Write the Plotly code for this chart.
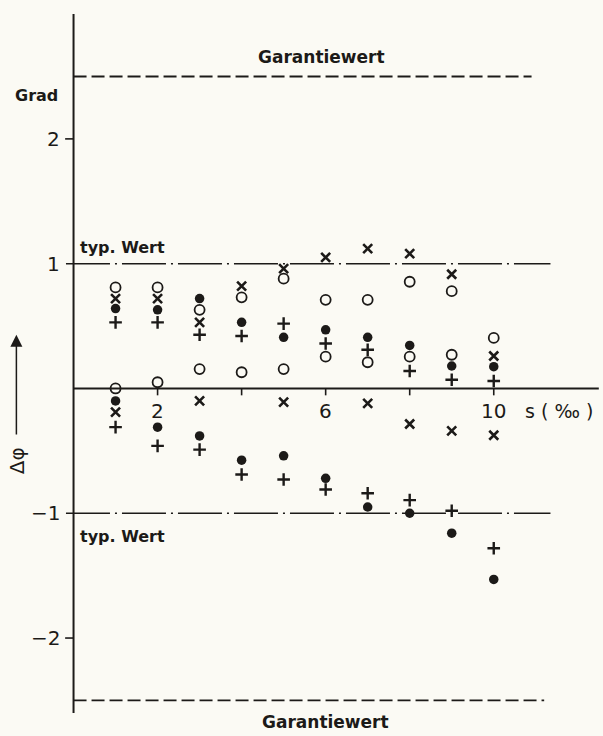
import plotly.graph_objects as go

# ---- data ----
s_values = [1, 2, 3, 4, 5, 6, 7, 8, 9, 10]

open_upper = [0.81, 0.81, 0.63, 0.73, 0.88, 0.71, 0.71, 0.855, 0.78, 0.405]
open_lower = [0.0, 0.05, 0.155, 0.13, 0.155, 0.255, 0.21, 0.255, 0.27, None]
cross_upper = [0.72, 0.72, 0.53, 0.82, 0.96, 1.05, 1.12, 1.08, 0.915, 0.26]
cross_lower = [-0.19, None, -0.10, None, -0.11, None, -0.12, -0.285, -0.34, -0.375]
dot_upper = [0.64, 0.63, 0.72, 0.53, 0.41, 0.47, 0.41, 0.345, 0.18, 0.175]
dot_lower = [-0.10, -0.31, -0.38, -0.575, -0.54, -0.72, -0.95, -1.0, -1.16, -1.53]
plus_upper = [0.53, 0.53, 0.43, 0.42, 0.52, 0.36, 0.31, 0.14, 0.07, 0.06]
plus_lower = [-0.31, -0.46, -0.49, -0.69, -0.73, -0.81, -0.84, -0.895, -0.98, -1.28]

x_tick_vals = [2, 4, 6, 8, 10]
x_tick_labels = ["2", "", "6", "", "10"]
y_tick_vals = [2, 1, -1, -2]
y_tick_labels = ["2", "1", "\u22121", "\u22122"]
guarantee_value = 2.5
typical_value = 1.0

INK = "#1c1a18"
BG = "#fbfaf4"
FONT = "DejaVu Sans"

fig = go.Figure()

def add_series(yvals, symbol, size, lw):
    fig.add_trace(go.Scatter(
        x=s_values, y=yvals, mode="markers",
        marker=dict(symbol=symbol, size=size, color=INK,
                    line=dict(color=INK, width=lw)),
        showlegend=False, hoverinfo="skip"))

for ys in (open_upper, open_lower):
    add_series(ys, "circle-open", 10, 1.8)
for ys in (cross_upper, cross_lower):
    add_series(ys, "x-thin", 9, 2.6)
for ys in (dot_upper, dot_lower):
    add_series(ys, "circle", 9.5, 0)
for ys in (plus_upper, plus_lower):
    add_series(ys, "cross-thin", 9, 2.4)

shapes = []
# axes
shapes.append(dict(type="line", x0=0, x1=0, y0=-2.6, y1=3.0, xref="x", yref="y",
                   line=dict(color=INK, width=2)))
shapes.append(dict(type="line", x0=0, x1=12.5, y0=0, y1=0, xref="x", yref="y",
                   line=dict(color=INK, width=2)))
# guarantee lines
shapes.append(dict(type="line", x0=0, x1=10.9, y0=guarantee_value, y1=guarantee_value,
                   xref="x", yref="y", line=dict(color=INK, width=1.8, dash="13px,5px")))
shapes.append(dict(type="line", x0=0, x1=11.2, y0=-guarantee_value, y1=-guarantee_value,
                   xref="x", yref="y", line=dict(color=INK, width=1.8, dash="13px,5px")))
# typical value lines
for yv in (typical_value, -typical_value):
    shapes.append(dict(type="line", x0=-0.18, x1=11.35, y0=yv, y1=yv, xref="x", yref="y",
                       line=dict(color=INK, width=1.6, dash="44px,5px,2px,5px")))
# x ticks
for xv in x_tick_vals:
    shapes.append(dict(type="line", x0=xv, x1=xv, y0=0, y1=-0.055, xref="x", yref="y",
                       line=dict(color=INK, width=1.6)))
# y ticks at +-2
for yv in (2, -2):
    shapes.append(dict(type="line", x0=-0.2, x1=0, y0=yv, y1=yv, xref="x", yref="y",
                       line=dict(color=INK, width=1.6)))

annotations = []
for xv, lab in zip(x_tick_vals, x_tick_labels):
    if lab:
        annotations.append(dict(x=xv, y=-0.18, xref="x", yref="y", text=lab, showarrow=False,
                                font=dict(family=FONT, size=20, color=INK)))
annotations.append(dict(x=11.55, y=-0.18, xref="x", yref="y", text="s ( \u2030 )", showarrow=False,
                        font=dict(family=FONT, size=19, color=INK)))
for yv, lab in zip(y_tick_vals, y_tick_labels):
    annotations.append(dict(x=-0.28, y=yv, xref="x", yref="y", text=lab, showarrow=False,
                            xanchor="right", font=dict(family=FONT, size=20, color=INK)))
annotations.append(dict(x=-0.32, y=2.35, xref="x", yref="y", text="<b>Grad</b>", showarrow=False,
                        xanchor="right", font=dict(family=FONT, size=16, color=INK)))
annotations.append(dict(x=5.9, y=2.66, xref="x", yref="y", text="<b>Garantiewert</b>", showarrow=False,
                        font=dict(family=FONT, size=17, color=INK)))
annotations.append(dict(x=6.0, y=-2.67, xref="x", yref="y", text="<b>Garantiewert</b>", showarrow=False,
                        font=dict(family=FONT, size=17, color=INK)))
annotations.append(dict(x=0.1, y=1.13, xref="x", yref="y", text="<b>typ. Wert</b>", showarrow=False,
                        xanchor="left", font=dict(family=FONT, size=16, color=INK)))
annotations.append(dict(x=0.1, y=-1.19, xref="x", yref="y", text="<b>typ. Wert</b>", showarrow=False,
                        xanchor="left", font=dict(family=FONT, size=16, color=INK)))
# delta phi label with arrow
annotations.append(dict(x=-1.36, y=-0.58, xref="x", yref="y", text="\u0394\u03c6", showarrow=False,
                        textangle=-90, font=dict(family=FONT, size=20, color=INK)))
annotations.append(dict(x=-1.36, y=0.43, xref="x", yref="y", ax=-1.36, ay=-0.38,
                        axref="x", ayref="y", text="", showarrow=True,
                        arrowhead=2, arrowsize=1.6, arrowwidth=1.5, arrowcolor=INK))

fig.update_layout(
    width=603, height=736,
    margin=dict(l=0, r=0, t=0, b=0),
    paper_bgcolor=BG, plot_bgcolor=BG,
    xaxis=dict(range=[-1.75, 12.6], visible=False, fixedrange=True),
    yaxis=dict(range=[-2.785, 3.113], visible=False, fixedrange=True),
    shapes=shapes, annotations=annotations,
    showlegend=False,
)

fig.write_html(
    "out.html",
    config={"displayModeBar": False},
    post_script="document.body.style.margin='0';document.body.style.overflow='hidden';"
                "document.body.style.background='" + BG + "';",
)
